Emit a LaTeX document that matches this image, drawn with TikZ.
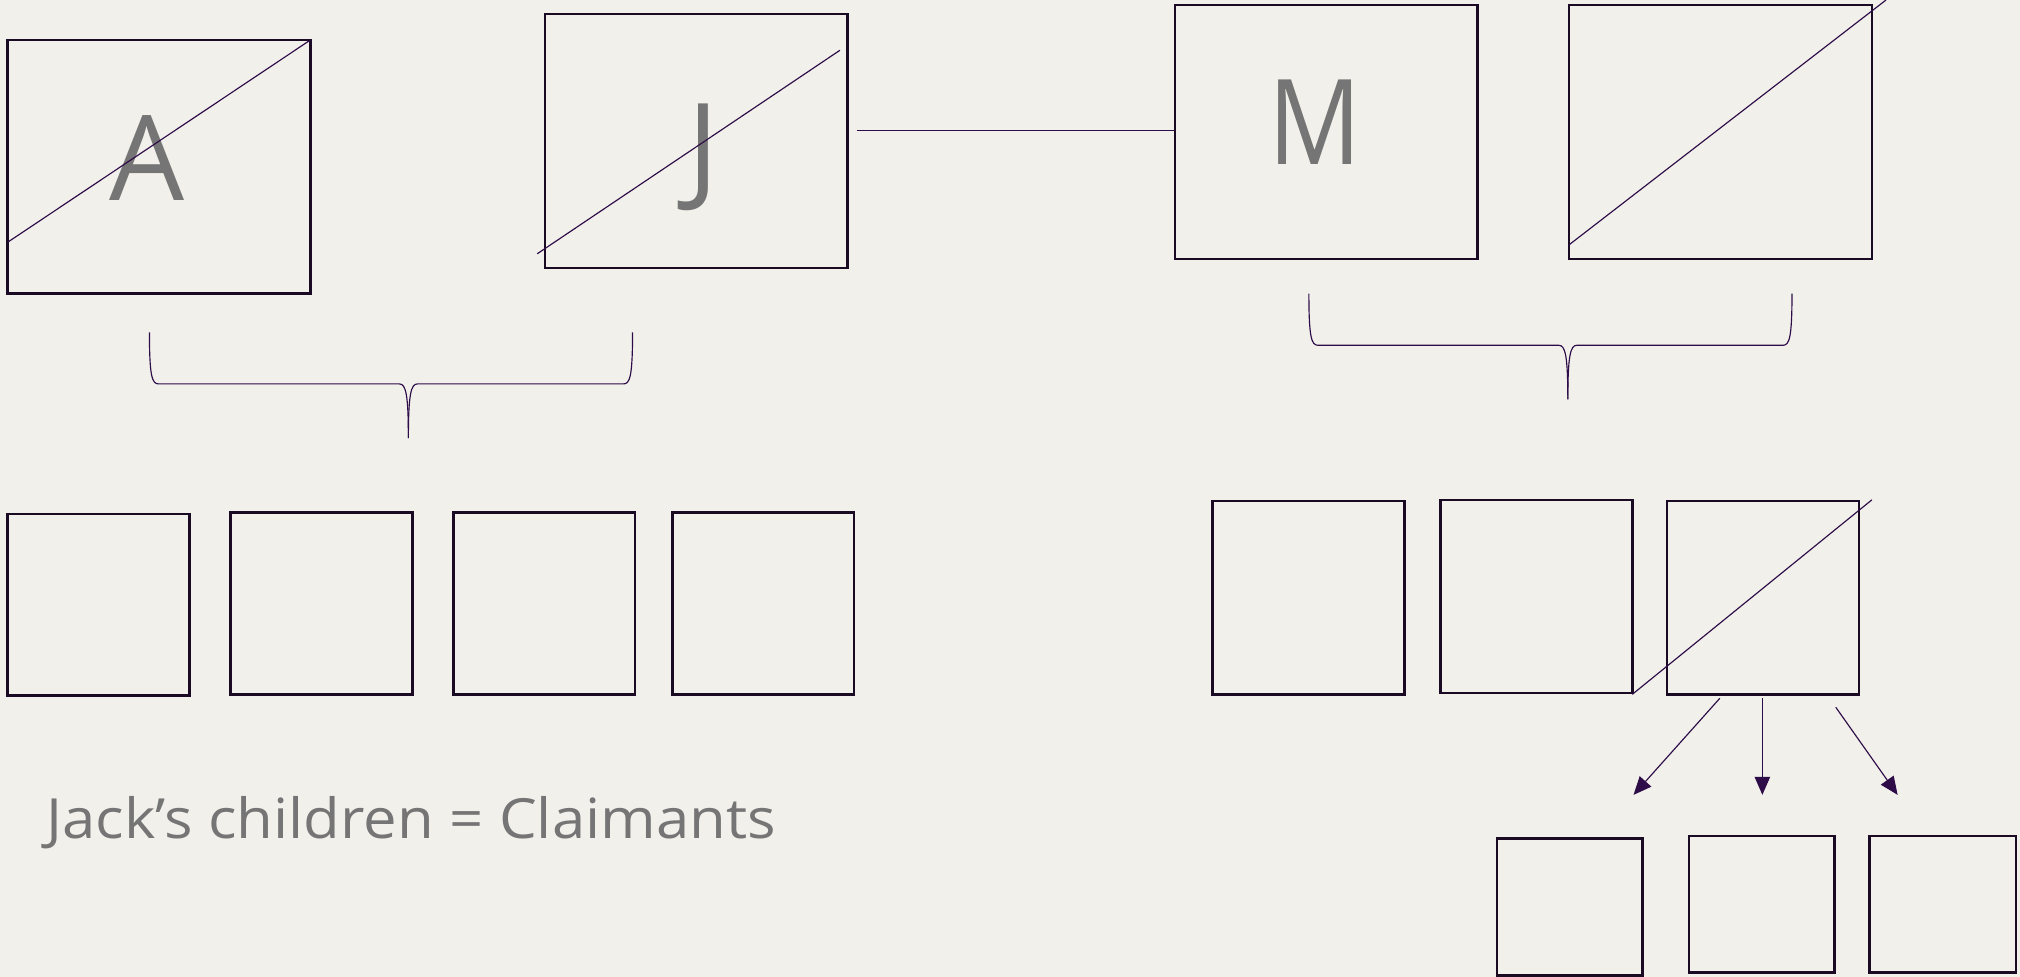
\documentclass[tikz,border=0pt]{standalone}
\usepackage{fontspec}
\setmainfont{Open Sans}
\usetikzlibrary{arrows.meta}
\definecolor{bg}{RGB}{241,240,235}
\definecolor{boxc}{RGB}{26,10,36}
\definecolor{linec}{RGB}{45,12,72}
\definecolor{txt}{RGB}{117,117,117}
\begin{document}
\begin{tikzpicture}[x=1pt,y=-1pt,
  box/.style={draw=boxc, line width=2pt, inner sep=0pt, rectangle},
  bigbox/.style={box, minimum width=235pt, minimum height=197pt},
  sqbox/.style={box, minimum width=141pt, minimum height=141pt},
  midbox/.style={box, minimum width=149pt, minimum height=150pt},
  lowbox/.style={box, minimum width=113pt, minimum height=106pt},
  slash/.style={draw=linec, line width=0.9pt},
  brace/.style={draw=linec, line width=0.9pt},
  arr/.style={draw=linec, line width=0.9pt, -{Triangle[length=14pt,width=12pt]}},
  letter/.style={text=txt, font=\fontsize{92}{92}\selectfont, inner sep=0pt, anchor=base},
  caption/.style={text=txt, font=\fontsize{43}{43}\selectfont, inner sep=0pt, anchor=base west}
]
\fill[bg] (0,0) rectangle (1568,758);
\useasboundingbox (0,0) rectangle (1568,758);

% top row
\node[bigbox] (A) at (123.5,129.5) {};
\node[bigbox] (J) at (540.5,109.5) {};
\node[bigbox] (M) at (1029.5,102.5) {};
\node[bigbox] (W) at (1335.5,102.5) {};
\node[letter] (tA) at (114,156) {A};
\node[letter] (tJ) at (546,146) {J};
\node[letter] (tM) at (1021,128) {\scalebox{0.87}[1]{M}};

% slashes
\coordinate (a1) at (6,188); \coordinate (a2) at (241,31);
\draw[slash] (a1) -- (a2);
\coordinate (j1) at (417,197); \coordinate (j2) at (652,39);
\draw[slash] (j1) -- (j2);
\coordinate (w1) at (1218,190); \coordinate (w2) at (1464,0);
\draw[slash] (w1) -- (w2);

% marriage line
\coordinate (mj) at ([xshift=6pt,yshift=1.5pt]J.east |- M.west);
\coordinate (mm) at ([yshift=1.5pt]M.west);
\draw[slash, line width=0.7pt] (mj) -- (mm);

% braces
\draw[brace] (116,258) .. controls (116,292) and (118,298) .. (123,298) -- (310,298)
  .. controls (315,298) and (317,306) .. (317,340);
\draw[brace] (317,340) .. controls (317,306) and (319,298) .. (324,298) -- (484,298)
  .. controls (489,298) and (491,292) .. (491,258);
\draw[brace] (1016,228) .. controls (1016,262) and (1018,268) .. (1023,268) -- (1210,268)
  .. controls (1215,268) and (1217,276) .. (1217,310);
\draw[brace] (1217,310) .. controls (1217,276) and (1219,268) .. (1224,268) -- (1384,268)
  .. controls (1389,268) and (1391,262) .. (1391,228);

% bottom-left children
\node[sqbox] (b1) at (76.5,469.5) {};
\node[sqbox] (b2) at (249.5,468.5) {};
\node[sqbox] (b3) at (422.5,468.5) {};
\node[sqbox] (b4) at (592.5,468.5) {};

\node[caption] (cap) at (36,651) {\scalebox{1.08}[1]{Jack’s children = Claimants}};

% right-middle children
\node[midbox] (c1) at (1015.5,464) {};
\node[midbox] (c2) at (1192.5,463) {};
\node[midbox] (c3) at (1368.5,464) {};
\coordinate (s1) at (1267,539); \coordinate (s2) at (1453,388);
\draw[slash] (s1) -- (s2);

% grandchildren
\node[lowbox] (d1) at (1218.5,704) {};
\node[lowbox] (d2) at (1367.5,702) {};
\node[box, minimum width=114pt, minimum height=106pt] (d3) at (1508,702) {};

\coordinate (p1) at (1335,542); \coordinate (q1) at (1268,617);
\coordinate (p2) at (1368,542); \coordinate (q2) at (1368,617);
\coordinate (p3) at (1425,549); \coordinate (q3) at (1473,617);
\draw[arr] (p1) -- (q1);
\draw[arr] (p2) -- (q2);
\draw[arr] (p3) -- (q3);
\end{tikzpicture}
\end{document}
